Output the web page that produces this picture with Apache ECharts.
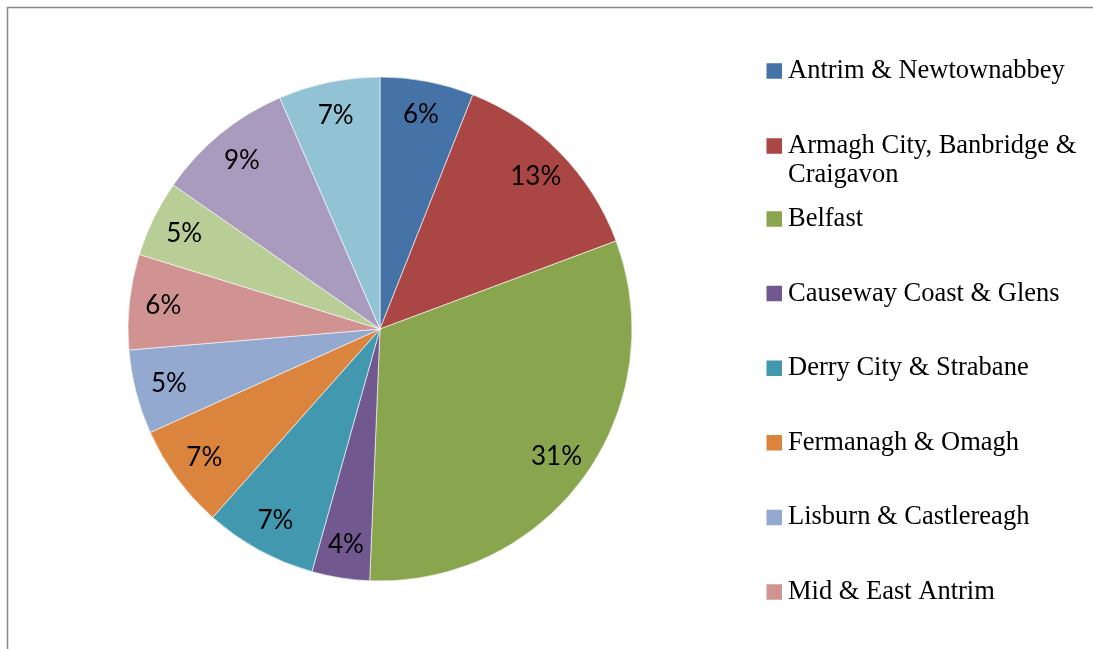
<!DOCTYPE html>
<html>
<head>
<meta charset="utf-8">
<script src="https://cdn.jsdelivr.net/npm/echarts@6/dist/echarts.min.js"></script>
<style>
  html, body { margin: 0; padding: 0; background: #fff; }
  #main { width: 1093px; height: 649px; }
</style>
</head>
<body>
<div id="main"></div>
<script>
// council areas, clockwise from 12 o'clock
const councils = [
    'Antrim & Newtownabbey',
    'Armagh City, Banbridge & Craigavon',
    'Belfast',
    'Causeway Coast & Glens',
    'Derry City & Strabane',
    'Fermanagh & Omagh',
    'Lisburn & Castlereagh',
    'Mid & East Antrim',
    'Mid Ulster',
    'Newry, Mourne & Down',
    'North Down & Ards'
];
// share (%)
const shares = [6.0, 13.3, 31.3, 3.7, 7.2, 6.7, 5.4, 6.1, 4.9, 8.8, 6.5];
const sliceColors = ['#4572A7', '#AA4643', '#89A54E', '#71588F', '#4198AF', '#DB843D',
                     '#93A9CF', '#D19392', '#B9CD96', '#A99BBD', '#92C3D4'];

let chart = echarts.init(document.getElementById('main'));

let pieData = councils.map((name, i) => ({
    name: name,
    value: shares[i],
    itemStyle: {color: sliceColors[i]}
}));

//图例公共样式
let legendBase = {
    orient: 'vertical',
    left: 764.5,
    height: 1200,
    padding: 0,
    itemWidth: 17.5,
    itemHeight: 17.5,
    itemGap: 45.6,
    icon: 'rect',
    selectedMode: false,
    textStyle: {
        fontFamily: '"Liberation Serif", "DejaVu Serif", serif',
        fontSize: 26.5,
        lineHeight: 29,
        color: '#000'
    }
};

let option = {
    animation: false,
    color: sliceColors,
    graphic: [{
        type: 'polyline',
        silent: true,
        shape: {points: [[7.5, 800], [7.5, 7.5], [1200, 7.5]]},
        style: {fill: 'none', stroke: '#878787', lineWidth: 1.5}
    }],
    legend: [
        Object.assign({}, legendBase, {top: 56.5, data: [councils[0]]}),
        Object.assign({}, legendBase, {
            top: 102.5,
            data: [councils[1]],
            // blank first line so the marker sits on the first real line
            formatter: function (name) {
                return ' \nArmagh City, Banbridge &\nCraigavon';
            }
        }),
        Object.assign({}, legendBase, {top: 204.5, data: councils.slice(2)})
    ],
    series: [
        {
            type: 'pie',
            center: [380, 329],
            radius: [0, 252],
            startAngle: 90,
            clockwise: true,
            silent: true,
            label: {show: false},
            labelLine: {show: false},
            itemStyle: {borderColor: '#fff', borderWidth: 0.6},
            data: pieData
        },
        {
            // transparent ring, only used to put the % labels near the outer edge
            type: 'pie',
            center: [380, 329],
            radius: [178, 252],
            startAngle: 90,
            clockwise: true,
            silent: true,
            itemStyle: {color: 'rgba(0,0,0,0)'},
            labelLine: {show: false},
            label: {
                show: true,
                position: 'inside',
                fontFamily: 'Lato, "Open Sans", sans-serif',
                fontSize: 26,
                color: '#000',
                formatter: function (p) {
                    return Math.round(p.percent) + '%';
                }
            },
            data: councils.map((name, i) => ({name: name, value: shares[i]}))
        }
    ]
};
chart.setOption(option);

window.onresize = function () {
    chart.resize();
};
</script>
</body>
</html>
